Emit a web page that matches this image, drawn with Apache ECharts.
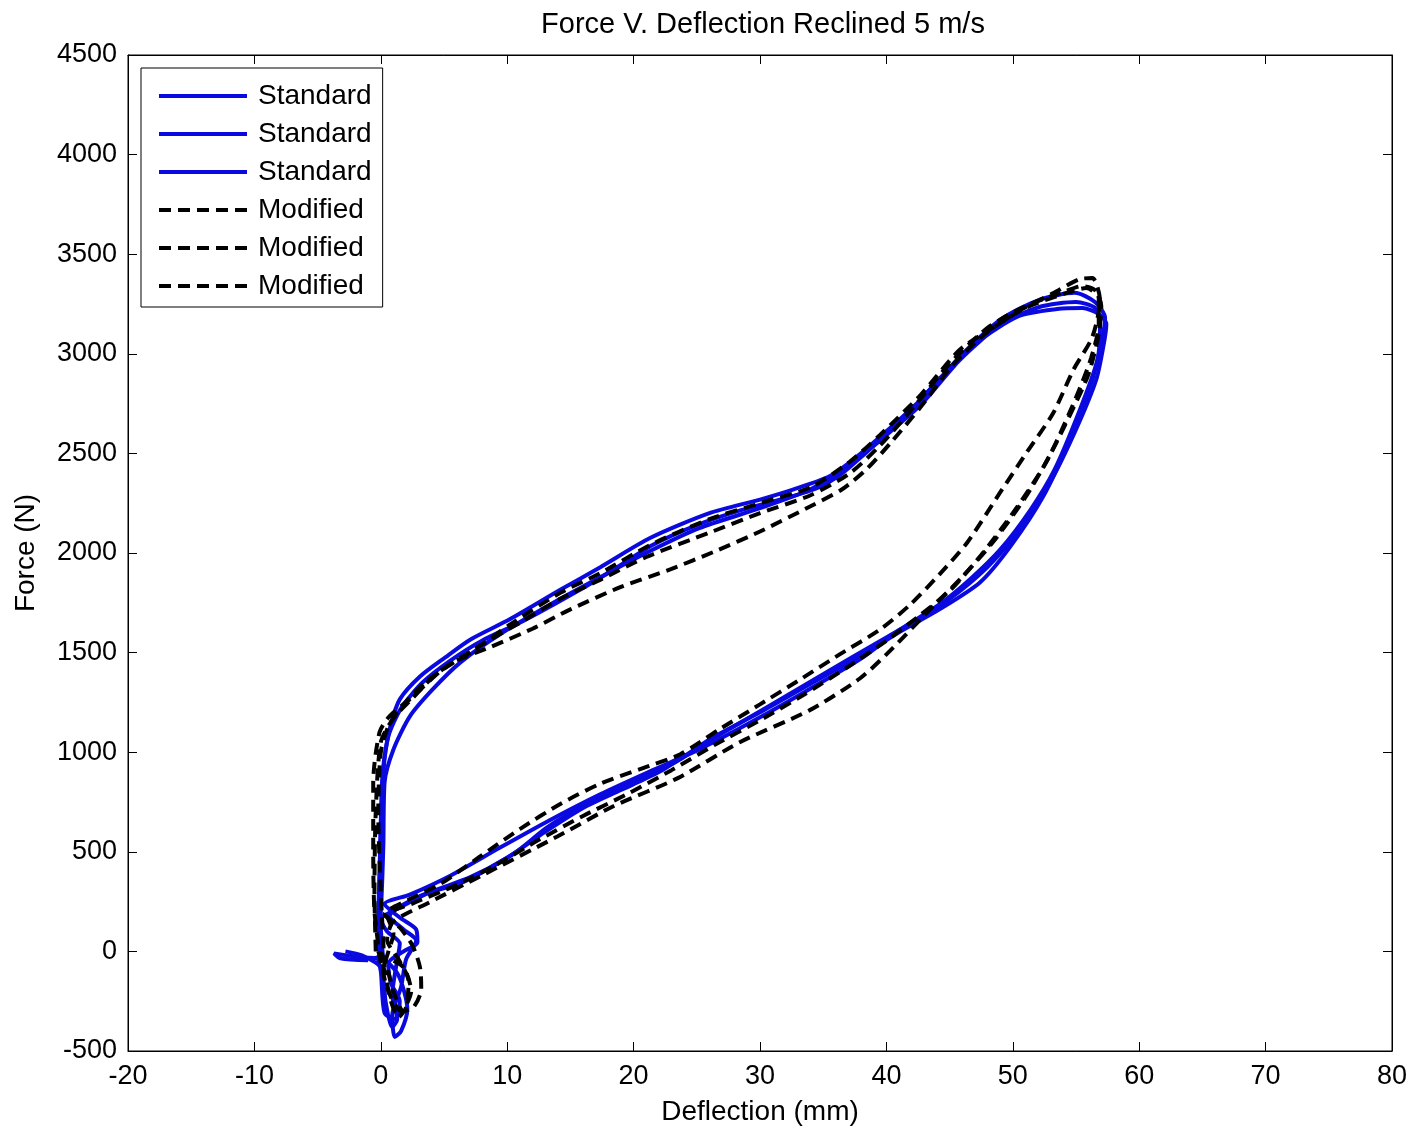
<!DOCTYPE html>
<html>
<head>
<meta charset="utf-8">
<script src="https://cdn.jsdelivr.net/npm/echarts@6/dist/echarts.min.js"></script>
<style>html,body{margin:0;padding:0;background:#fff}#c{width:1413px;height:1131px}</style>
</head>
<body>
<div id="c"></div>
<script>
// ---- data (Deflection mm, Force N) ----
const titleText = 'Force V. Deflection Reclined 5 m/s';
const xName = 'Deflection (mm)';
const yName = 'Force (N)';
const xTicks = {min: -20, max: 80, interval: 10};
const yTicks = {min: -500, max: 4500, interval: 500};

const standard1 = [
[0.0,-20],[-0.2,150],[-0.1,400],[0.0,650],[0.1,850],[0.3,980],[0.8,1140],[1.5,1265],[3.1,1380],[5.1,1476],[7.1,1566],[10.2,1667],[14.2,1815],[17.4,1930],[21.3,2075],[26.0,2200],[30.0,2268],[32.6,2318],[35.5,2385],[37.5,2475],[39.5,2583],[42.7,2769],[45.8,2985],[49.0,3170],[52.1,3271],[54.9,3306],[56.5,3260],[57.3,3180],
[57.1,3086],[56.3,2870],[54.5,2569],[52.4,2283],[49.8,2032],[47.4,1852],[44.2,1717],[41.1,1606],[37.9,1481],[33.9,1340],[30.0,1200],[26.0,1064],[23.7,964],[21.0,880],[18.4,805],[15.8,725],[13.1,620],[10.5,490],[6.5,348],[3.1,278],[0.7,177],
[1.8,110],[2.8,55],[2.0,-40],[1.6,-180],[0.9,-320],[1.1,-430],[1.6,-400],[2.1,-290],[1.4,-120],[0.2,-40],[-1.5,-30],[-3.7,-10],[-3.2,-35],[-1.0,-45]
];
const standard2 = [
[-0.3,0],[0.0,200],[0.2,528],[0.3,849],[1.0,1014],[2.3,1180],[4.1,1315],[6.3,1451],[9.4,1591],[14.2,1770],[17.4,1880],[21.3,2010],[25.2,2125],[30.0,2225],[34.0,2320],[37.1,2443],[39.5,2568],[42.7,2743],[45.8,2969],[49.0,3145],[52.1,3235],[55.0,3260],[56.5,3230],[56.9,3145],
[56.7,2970],[55.3,2718],[53.3,2418],[51.4,2217],[49.0,2017],[46.6,1867],[44.2,1742],[41.1,1616],[37.9,1466],[33.9,1316],[30.0,1175],[25.2,1014],[21.3,904],[17.4,790],[13.4,660],[9.4,520],[5.5,380],[2.3,285],[0.3,238],
[1.5,170],[2.8,110],[2.9,45],[1.8,0],[0.6,-60],[0.8,-160],[1.5,-250],[1.2,-340],[0.3,-310],[0.0,-100],[-0.3,-20]
];
const standard3 = [
[0.2,-50],[-0.1,250],[0.0,600],[0.2,900],[0.6,1080],[1.6,1220],[3.3,1350],[5.5,1460],[8.0,1560],[11.0,1650],[14.5,1770],[18.0,1900],[21.5,2040],[25.0,2140],[28.5,2215],[32.0,2275],[34.5,2325],[36.5,2400],[38.5,2510],[41.0,2650],[44.0,2860],[47.0,3050],[50.5,3190],[53.5,3225],[55.5,3230],[56.8,3200],[57.4,3150],
[57.2,3050],[56.6,2870],[55.0,2620],[53.0,2360],[50.5,2110],[48.0,1930],[45.0,1770],[42.0,1650],[39.0,1540],[35.5,1410],[32.0,1280],[28.5,1150],[25.0,1020],[22.0,900],[19.0,810],[16.0,720],[13.0,600],[10.0,470],[7.0,370],[4.0,300],[1.5,220],[0.0,160],
[0.5,100],[1.5,40],[1.2,-80],[0.9,-220],[1.3,-340],[0.9,-380],[0.4,-260],[0.0,-80],[-1.5,-20],[-2.8,0]
];
const modified1 = [
[0.0,-60],[-0.5,200],[-0.6,528],[-0.6,849],[-0.1,1100],[0.7,1181],[2.3,1266],[4.9,1416],[7.1,1501],[10.2,1640],[14.2,1800],[17.4,1900],[21.3,2040],[26.0,2170],[30.0,2250],[34.0,2330],[37.1,2458],[39.5,2593],[42.7,2793],[45.8,3020],[48.4,3130],[50.6,3220],[53.2,3305],[55.3,3375],[56.3,3380],[56.9,3270],
[56.3,3086],[54.8,2920],[53.2,2703],[51.1,2505],[49.0,2304],[46.4,2053],[44.2,1893],[41.9,1742],[39.5,1616],[36.3,1491],[33.2,1366],[30.0,1240],[26.8,1115],[23.7,990],[20.5,915],[17.3,840],[14.2,740],[11.0,614],[7.8,474],[4.7,338],[2.3,263],[0.3,187],
[1.5,120],[2.5,30],[3.1,-80],[3.2,-190],[2.6,-280],[1.8,-300],[1.0,-200],[0.5,-80],[0.0,0]
];
const modified2 = [
[0.3,-80],[0.0,300],[-0.2,700],[0.0,1000],[0.6,1130],[1.8,1240],[3.5,1350],[5.5,1440],[8.0,1540],[11.0,1650],[14.2,1770],[17.5,1870],[21.0,1980],[26.0,2102],[30.0,2200],[34.0,2290],[37.1,2400],[39.5,2540],[42.0,2720],[45.0,2950],[48.0,3130],[51.0,3240],[54.0,3310],[55.5,3340],[56.5,3320],[57.0,3240],[56.8,3100],
[56.0,2900],[54.5,2690],[52.5,2440],[50.0,2200],[47.5,1990],[45.0,1810],[42.5,1680],[40.0,1560],[37.0,1430],[33.5,1290],[30.0,1160],[26.5,1040],[23.0,910],[19.5,790],[16.0,680],[12.5,560],[9.0,430],[5.5,320],[2.5,240],[0.5,180],
[1.0,90],[0.6,0],[0.2,-100],[0.8,-230],[1.6,-300],[2.4,-200],[1.8,-80],[0.5,-30]
];
const modified3 = [
[-0.4,0],[-0.5,300],[-0.4,700],[0.0,1050],[1.0,1170],[2.5,1270],[4.0,1370],[5.7,1451],[8.6,1526],[12.0,1620],[15.0,1717],[19.0,1830],[22.9,1918],[26.5,2010],[30.0,2108],[34.0,2235],[36.5,2320],[38.5,2425],[40.5,2565],[42.8,2740],[45.2,2940],[48.0,3110],[51.0,3230],[54.0,3300],[55.8,3330],[56.8,3280],[56.8,3150],
[56.2,2980],[55.0,2780],[53.0,2500],[51.0,2280],[48.5,2060],[46.0,1880],[43.7,1733],[40.3,1510],[37.9,1370],[33.9,1210],[28.4,1050],[23.5,870],[18.4,729],[14.0,578],[7.9,378],[3.9,248],[1.0,150],
[0.5,60],[1.5,-50],[2.2,-150],[2.0,-280],[1.4,-330],[0.8,-250],[0.3,-100],[-0.2,0]
];
const seriesNames = ['Standard', 'Standard', 'Standard', 'Modified', 'Modified', 'Modified'];
const seriesData = [standard1, standard2, standard3, modified1, modified2, modified3];

// ---- chart ----
const FONT = "'Liberation Sans', Arial, Helvetica, sans-serif";
const BLUE = '#0a0ae0';
const chart = echarts.init(document.getElementById('c'), null, {renderer: 'canvas'});
const series = seriesData.map((d, i) => {
  const isStd = i < 3;
  return {
    name: seriesNames[i] + '#' + i,
    type: 'line',
    data: d,
    showSymbol: false,
    symbol: 'none',
    smooth: 0.25,
    animation: false,
    lineStyle: {
      color: isStd ? BLUE : '#000',
      width: 4,
      type: isStd ? 'solid' : [12, 7]
    },
    itemStyle: {color: isStd ? BLUE : '#000'},
    z: 2 + i
  };
});
const axisCommon = {
  type: 'value',
  splitLine: {show: false},
  axisLine: {show: true, onZero: false, lineStyle: {color: '#000', width: 1}},
  axisTick: {show: true, inside: true, length: 9, lineStyle: {color: '#000'}},
};
const plainNum = v => String(v);
chart.setOption({
  backgroundColor: '#fff',
  animation: false,
  title: {
    text: titleText, left: 758, top: 5, textAlign: 'center',
    textStyle: {fontFamily: FONT, fontSize: 29, fontWeight: 'normal', color: '#000'}
  },
  grid: {left: 128, right: 21, top: 55, bottom: 79, show: true, borderColor: '#000', borderWidth: 1, containLabel: false},
  legend: {
    orient: 'vertical', left: 141, top: 68,
    backgroundColor: '#fff', borderColor: '#000', borderWidth: 1,
    padding: [13, 11, 6, 16],
    itemWidth: 88, itemHeight: 14, itemGap: 8,
    itemStyle: {opacity: 0},
    lineStyle: {width: 4},
    formatter: n => n.split('#')[0],
    textStyle: {fontFamily: FONT, fontSize: 28, color: '#000', lineHeight: 30, padding: [0, 0, 0, 6]},
    data: series.map(s => s.name)
  },
  xAxis: [
    Object.assign({}, axisCommon, {
      position: 'bottom', min: xTicks.min, max: xTicks.max, interval: xTicks.interval,
      name: xName, nameLocation: 'middle', nameGap: 47,
      nameTextStyle: {fontFamily: FONT, fontSize: 28, color: '#000'},
      axisLabel: {fontFamily: FONT, fontSize: 27, color: '#000', margin: 12, formatter: plainNum}
    }),
    Object.assign({}, axisCommon, {
      position: 'top', min: xTicks.min, max: xTicks.max, interval: xTicks.interval,
      axisLabel: {show: false}
    })
  ],
  yAxis: [
    Object.assign({}, axisCommon, {
      position: 'left', min: yTicks.min, max: yTicks.max, interval: yTicks.interval,
      name: yName, nameLocation: 'middle', nameGap: 88,
      nameTextStyle: {fontFamily: FONT, fontSize: 28, color: '#000'},
      axisLabel: {fontFamily: FONT, fontSize: 27, color: '#000', margin: 11, formatter: plainNum}
    }),
    Object.assign({}, axisCommon, {
      position: 'right', min: yTicks.min, max: yTicks.max, interval: yTicks.interval,
      axisLabel: {show: false}
    })
  ],
  series: series
});
</script>
</body>
</html>
